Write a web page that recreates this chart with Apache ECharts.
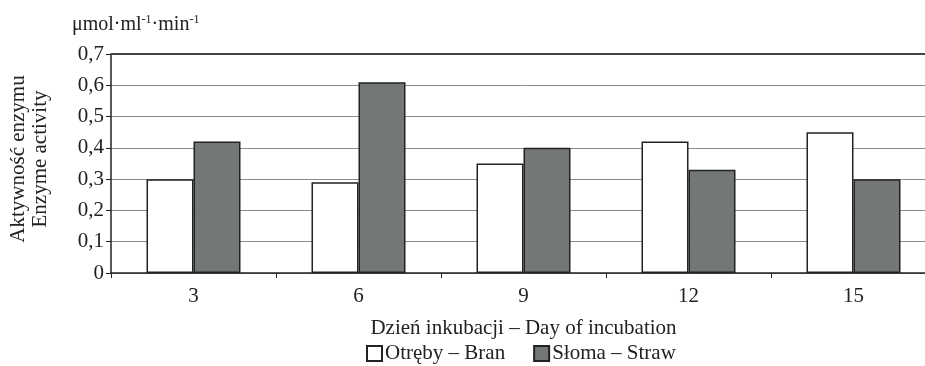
<!DOCTYPE html>
<html><head><meta charset="utf-8">
<script src="https://cdn.jsdelivr.net/npm/echarts@6/dist/echarts.min.js"></script>
<style>html,body{margin:0;padding:0;background:#fff;overflow:hidden}#c{width:936px;height:366px}</style>
</head><body><div id="c"></div>
<script>
const categories = ['3', '6', '9', '12', '15'];
const branValues = [0.30, 0.29, 0.35, 0.42, 0.45];
const strawValues = [0.42, 0.61, 0.40, 0.33, 0.30];
const seriesNames = ['Otręby – Bran', 'Słoma – Straw'];
const yTicks = { min: 0, max: 0.7, interval: 0.1 };
const xAxisTitle = 'Dzień inkubacji – Day of incubation';
const yAxisTitle = ['Aktywność enzymu', 'Enzyme activity'];

const FONT = 'Liberation Serif';
const FS = 21;
const chart = echarts.init(document.getElementById('c'), null, {renderer: 'canvas'});
chart.setOption({
  animation: false,
  backgroundColor: '#fff',
  textStyle: { fontFamily: FONT },
  title: {
    left: 67, top: 9,
    text: '{a|μmol·ml}{s|-1}{a|·min}{s|-1}',
    textStyle: {
      fontWeight: 'normal',
      rich: {
        a: { fontFamily: FONT, fontSize: 20, fontWeight: 'normal', color: '#222', verticalAlign: 'bottom' },
        s: { fontFamily: FONT, fontSize: 12, fontWeight: 'normal', color: '#222', verticalAlign: 'top', padding: [0, 0, 9, 0] }
      }
    }
  },
  graphic: [{
    type: 'text',
    rotation: Math.PI / 2, x: 29, y: 159,
    style: {
      text: yAxisTitle.join('\n'), fontFamily: FONT, fontSize: FS, fill: '#222',
      align: 'center', verticalAlign: 'middle', lineHeight: 22
    }
  }],
  legend: {
    left: 366, top: 343, padding: 0,
    icon: 'rect', itemWidth: 15, itemHeight: 15, itemGap: 28,
    textStyle: { fontFamily: FONT, fontSize: FS, color: '#222', padding: [0, 0, 0, -2] },
    data: seriesNames
  },
  grid: { left: 111, top: 54, right: 0, bottom: 93, containLabel: false },
  xAxis: {
    type: 'category', data: categories,
    name: xAxisTitle, nameLocation: 'middle', nameGap: 45,
    nameTextStyle: { fontFamily: FONT, fontSize: FS, color: '#222' },
    axisLine: { lineStyle: { color: '#222', width: 1.5 } },
    axisTick: { show: true, interval: 0, length: 5, lineStyle: { color: '#222' } },
    axisLabel: { fontFamily: FONT, fontSize: FS, color: '#222', margin: 13 }
  },
  yAxis: {
    type: 'value', min: yTicks.min, max: yTicks.max, interval: yTicks.interval,
    axisLine: { show: true, lineStyle: { color: '#222', width: 1.5 } },
    axisTick: { show: true, length: 5, lineStyle: { color: '#222' } },
    axisLabel: {
      fontFamily: FONT, fontSize: FS, color: '#222', margin: 7,
      formatter: v => v === 0 ? '0' : v.toFixed(1).replace('.', ',')
    },
    splitLine: { show: true, lineStyle: { color: '#8a8a8a', width: 1 } }
  },
  series: [{
    name: seriesNames[0], type: 'bar', data: branValues,
    barWidth: 47, barGap: '0%',
    itemStyle: { color: '#ffffff', borderColor: '#222', borderWidth: 1.5 },
    markLine: {
      silent: true, symbol: 'none', label: { show: false },
      lineStyle: { color: '#444', width: 2, type: 'solid' },
      data: [{ yAxis: yTicks.max }]
    }
  }, {
    name: seriesNames[1], type: 'bar', data: strawValues,
    barWidth: 47, barGap: '0%',
    itemStyle: { color: '#737778', borderColor: '#222', borderWidth: 1.5 }
  }]
});
</script></body></html>
